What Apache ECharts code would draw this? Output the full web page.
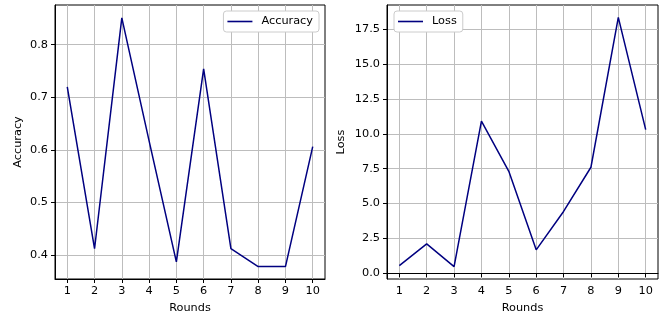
<!DOCTYPE html>
<html>
<head>
<meta charset="utf-8">
<script src="https://cdn.jsdelivr.net/npm/echarts@6/dist/echarts.min.js"></script>
<style>
  html, body { margin: 0; padding: 0; background: #fff; }
  #chart { width: 669px; height: 320px; }
</style>
</head>
<body>
<div id="chart"></div>
<script>
// data
const rounds = [1, 2, 3, 4, 5, 6, 7, 8, 9, 10];
const accuracy = [0.72, 0.412, 0.851, 0.617, 0.387, 0.754, 0.412, 0.378, 0.378, 0.606];
const loss = [0.55, 2.11, 0.48, 10.9, 7.31, 1.68, 4.43, 7.6, 18.34, 10.3];
const accTicks = [0.4, 0.5, 0.6, 0.7, 0.8];
const lossTicks = [0, 2.5, 5, 7.5, 10, 12.5, 15, 17.5];

const FONT = "DejaVu Sans";
const FS = 11.3;
const grey = "#bdbdbd";

function xAxis(gridIndex) {
  return {
    type: "value", gridIndex, min: 0.55, max: 10.45,
    name: "Rounds", nameLocation: "middle", nameGap: 24,
    nameTextStyle: { fontFamily: FONT, fontSize: FS, color: "#000" },
    axisLine: { lineStyle: { color: "#000", width: 1 } },
    axisTick: { show: true, length: 4, lineStyle: { color: "#000" }, customValues: rounds },
    axisLabel: { customValues: rounds, fontFamily: FONT, fontSize: FS, color: "#000", margin: 7 },
    splitLine: { show: true, lineStyle: { color: grey, width: 1 } },
  };
}

function yAxis(gridIndex, name, min, max, ticks, gap, fmt) {
  return {
    type: "value", gridIndex, min, max,
    name, nameLocation: "middle", nameGap: gap,
    nameTextStyle: { fontFamily: FONT, fontSize: FS, color: "#000" },
    axisLine: { show: true, lineStyle: { color: "#000", width: 1 } },
    axisTick: { show: true, length: 4, lineStyle: { color: "#000" }, customValues: ticks },
    axisLabel: { customValues: ticks, formatter: fmt, fontFamily: FONT, fontSize: FS, color: "#000", margin: 7 },
    splitLine: { show: true, lineStyle: { color: grey, width: 1 } },
  };
}

function legend(name, pos) {
  return Object.assign({
    data: [name], top: 11, orient: "horizontal",
    icon: "rect", itemWidth: 25, itemHeight: 1.6,
    padding: [5, 6, 5, 4],
    backgroundColor: "#fff", borderColor: "#cccccc", borderWidth: 1, borderRadius: 3,
    textStyle: { fontFamily: FONT, fontSize: FS, color: "#000", padding: [0, 0, 0, 4] },
  }, pos);
}

const chart = echarts.init(document.getElementById("chart"), null, { renderer: "canvas" });
chart.setOption({
  animation: false,
  backgroundColor: "#fff",
  grid: [
    { left: 55, right: 344, top: 5, bottom: 41, show: true, borderColor: "#000", borderWidth: 1 },
    { left: 387, right: 11, top: 5, bottom: 41, show: true, borderColor: "#000", borderWidth: 1 },
  ],
  legend: [
    legend("Accuracy", { right: 350 }),
    legend("Loss", { left: 394 }),
  ],
  xAxis: [xAxis(0), xAxis(1)],
  yAxis: [
    yAxis(0, "Accuracy", 0.3544, 0.8755, accTicks, 31, v => v.toFixed(1)),
    yAxis(1, "Loss", -0.41, 19.23, lossTicks, 40, v => v.toFixed(1)),
  ],
  series: [
    {
      name: "Accuracy", type: "line", xAxisIndex: 0, yAxisIndex: 0,
      data: rounds.map((r, i) => [r, accuracy[i]]),
      symbol: "none", color: "#000080", lineStyle: { width: 1.5 },
    },
    {
      name: "Loss", type: "line", xAxisIndex: 1, yAxisIndex: 1,
      data: rounds.map((r, i) => [r, loss[i]]),
      symbol: "none", color: "#000080", lineStyle: { width: 1.5 },
    },
  ],
});
</script>
</body>
</html>
